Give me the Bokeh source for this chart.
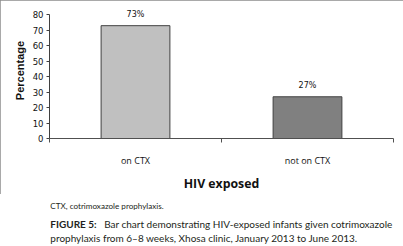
from bokeh.plotting import figure
from bokeh.layouts import column
from bokeh.models import ColumnDataSource, Range1d, FixedTicker
from bokeh.core.properties import value
from bokeh.embed import file_html
from bokeh.resources import INLINE

categories = ["on CTX", "not on CTX"]
percent = [73, 27]
bar_labels = ["73%", "27%"]
fills = ["#C0C0C0", "#808080"]
y_ticks = [0, 10, 20, 30, 40, 50, 60, 70, 80]
x_title = "HIV exposed"
y_title = "Percentage"
footnote = "CTX, cotrimoxazole prophylaxis."
fig_head = "FIGURE 5:"
fig_line1 = "Bar chart demonstrating HIV-exposed infants given cotrimoxazole"
fig_line2 = "prophylaxis from 6\u20138 weeks, Xhosa clinic, January 2013 to June 2013."

n = len(categories)
centers = [i + 0.5 for i in range(n)]
bounds = list(range(n + 1))

# ---------------- chart ----------------
p = figure(width=403, height=194, x_range=Range1d(0, n), y_range=Range1d(0, 88),
           output_backend="svg", toolbar_location=None,
           min_border_left=49, min_border_right=10, min_border_top=2, min_border_bottom=50,
           styles={"outline": "1px solid #8c8c8c", "outline-offset": "-1px"})
p.outline_line_color = None
p.xgrid.visible = False
p.ygrid.visible = False
p.background_fill_color = "white"
p.border_fill_color = "white"

src = ColumnDataSource(dict(x=centers, cat=categories, val=percent, lab=bar_labels, fill=fills))
p.vbar(x="x", top="val", bottom=0, width=0.4, source=src, fill_color="fill",
       line_color="#404040", line_width=1)
p.text(x="x", y="val", text="lab", source=src, text_align="center", text_baseline="middle",
       y_offset=-11, text_font=value("DejaVu Sans"), text_font_size="8px", text_color="#111111")

ya = p.yaxis[0]
ya.bounds = (y_ticks[0], y_ticks[-1])
ya.ticker = FixedTicker(ticks=y_ticks)
ya.minor_tick_line_color = None
ya.major_tick_in = 0
ya.major_tick_out = 3
ya.major_label_standoff = 3
ya.axis_line_color = "#404040"
ya.major_tick_line_color = "#404040"
ya.major_label_text_font = "DejaVu Sans"
ya.major_label_text_font_size = "8.5px"
ya.major_label_text_color = "#111111"
ya.axis_label = y_title
ya.axis_label_text_font = "Liberation Sans"
ya.axis_label_text_font_style = "bold"
ya.axis_label_text_font_size = "11px"
ya.axis_label_standoff = 4
ya.axis_label_text_color = "#111111"

xa = p.xaxis[0]
xa.ticker = FixedTicker(ticks=centers, minor_ticks=bounds)
xa.major_label_overrides = {c: name for c, name in zip(centers, categories)}
xa.major_tick_line_color = None
xa.minor_tick_in = 0
xa.minor_tick_out = 4
xa.minor_tick_line_color = "#505050"
xa.axis_line_color = "#505050"
xa.major_label_standoff = 9
xa.major_label_text_font = "Open Sans"
xa.major_label_text_font_size = "9px"
xa.major_label_text_color = "#111111"
xa.axis_label = x_title
xa.axis_label_text_font = "Open Sans"
xa.axis_label_text_font_style = "bold"
xa.axis_label_text_font_size = "12.3px"
xa.axis_label_standoff = 5
xa.axis_label_text_color = "#111111"

# ---------------- caption ----------------
c = figure(width=403, height=52, x_range=Range1d(0, 403), y_range=Range1d(52, 0),
           output_backend="svg", toolbar_location=None, min_border=0,
           x_axis_location=None, y_axis_location=None)
c.outline_line_color = None
c.grid.visible = False
c.background_fill_color = "white"
c.border_fill_color = "white"

ink = "#231F20"
c.text(x=[1], y=[11], text=[footnote], text_font=value("Lato"), text_font_size="8.1px",
       text_baseline="middle", text_color=ink)
c.text(x=[1], y=[29], text=[fig_head], text_font=value("Lato"), text_font_style="bold",
       text_font_size="10px", text_baseline="middle", text_color=ink)
c.text(x=[64], y=[29], text=[fig_line1], text_font=value("Lato"),
       text_font_size="10px", text_baseline="middle", text_color=ink)
c.text(x=[1], y=[43], text=[fig_line2], text_font=value("Lato"), text_font_size="10px",
       text_baseline="middle", text_color=ink)

layout = column(p, c, spacing=0)
open("out.html", "w").write(file_html(layout, INLINE))
